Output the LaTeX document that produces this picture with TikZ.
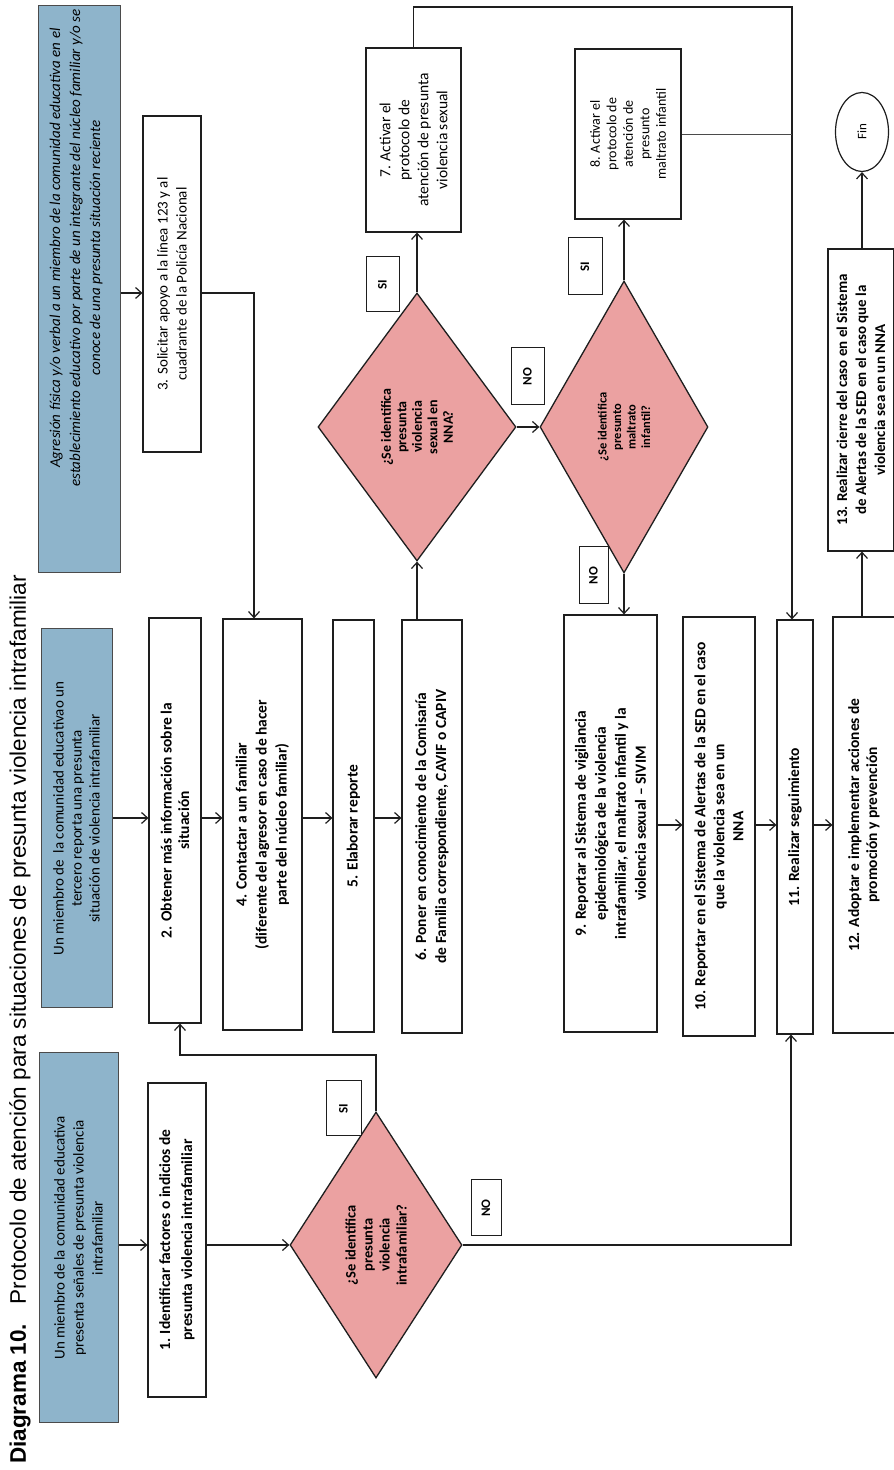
\documentclass[tikz,border=0pt]{standalone}
\usepackage{fontspec}
\setmainfont{Carlito}
\newfontfamily\titlefont{Liberation Sans}
\usetikzlibrary{shapes.geometric,arrows.meta}
\definecolor{bluebox}{HTML}{8EB4CB}
\definecolor{pinkd}{HTML}{EBA1A1}
\definecolor{lineclr}{HTML}{1E1E1E}
\newcommand\fsbox{\fontsize{15.5}{20}\selectfont}
\newcommand\fsblue{\fontsize{15}{19}\selectfont}
\newcommand\fsdia{\fontsize{14.5}{17}\selectfont}
\newcommand\fslab{\fontsize{13}{15}\selectfont}
\tikzset{
  bx/.style={draw=lineclr, line width=1.2pt, fill=white, align=center, inner sep=2pt, font=\fsbox\bfseries},
  rbx/.style={bx, font=\fsbox},
  bluebx/.style={draw=lineclr!80, line width=1pt, fill=bluebox, align=center, inner sep=2pt, font=\fsblue},
  dia/.style={diamond, draw=lineclr, line width=1.3pt, fill=pinkd, align=center, inner sep=0pt, font=\fsdia\bfseries},
  lab/.style={draw=lineclr, line width=1pt, fill=white, inner sep=0pt, font=\fslab\bfseries},
  arr/.style={lineclr, line width=1.2pt, -{Straight Barb[length=6pt,width=11pt]}},
  ln/.style={lineclr, line width=1.2pt},
}
\begin{document}
\begin{tikzpicture}[x=1pt,y=-1pt]
\begin{scope}[rotate=90, transform shape]
\fill[white] (0,0) rectangle (1470,894);
\useasboundingbox (0,0) rectangle (1470,894);

% title
\node[anchor=west, inner sep=0pt, font=\titlefont\fontsize{22.5}{26}\selectfont] (title) at (6,20)
  {\textbf{Diagrama 10.}\hspace{0.5em} Protocolo de atención para situaciones de presunta violencia intrafamiliar};

% header boxes
\node[bluebx, minimum width=370pt, minimum height=79pt] (blue1) at (232,78.5)
  {Un miembro de la comunidad educativa\\presenta señales de presunta violencia\\intrafamiliar};
\node[bluebx, minimum width=379pt, minimum height=71pt, font=\fontsize{15}{18}\selectfont] (blue2) at (651.5,76.5)
  {Un miembro de \ la comunidad educativao un\\tercero reporta una presunta\\situación de violencia intrafamiliar};
\node[bluebx, minimum width=567pt, minimum height=82pt] (blue3) at (1180.5,79) {};
\node[align=center, inner sep=0pt, font=\fontsize{15}{20}\selectfont\itshape] (blue3txt) at (1222,76)
  {Agresión física y/o verbal a un miembro de la comunidad educativa en el\\establecimiento educativo por parte de un integrante del núcleo familiar y/o se\\conoce de una presunta situación reciente};

% process boxes
\node[bx, minimum width=314pt, minimum height=58pt, font=\fontsize{15.5}{22}\selectfont\bfseries] (box1) at (230,177)
  {1. Identificar factores o indicios de\\presunta violencia intrafamiliar};
\node[bx, minimum width=405pt, minimum height=52pt, font=\fontsize{15.5}{17.5}\selectfont\bfseries] (box2) at (649.5,175)
  {2. Obtener más información sobre la\\situación};
\node[rbx, minimum width=336pt, minimum height=58pt, font=\fontsize{15}{19}\selectfont] (box3) at (1186,172)
  {3. Solicitar apoyo a la línea 123 y al\\cuadrante de la Policía Nacional};
\node[bx, minimum width=411pt, minimum height=79pt] (box4) at (645.5,262.5)
  {4. Contactar a un familiar\\(diferente del agresor en caso de hacer\\parte del núcleo familiar)};
\node[bx, minimum width=412pt, minimum height=41pt] (box5) at (644,353.5)
  {5. Elaborar reporte};
\node[bx, minimum width=413pt, minimum height=60pt] (box6) at (643.5,432)
  {6. Poner en conocimiento de la Comisaría\\de Familia correspondiente, CAVIF o CAPIV};
\node[rbx, minimum width=184pt, minimum height=95pt, font=\fontsize{15.5}{19}\selectfont] (box7) at (1330,413.5)
  {7. Activar el\\protocolo de\\atención de presunta\\violencia sexual};
\node[rbx, minimum width=170pt, minimum height=106pt, font=\fontsize{14}{16.5}\selectfont] (box8) at (1336,628)
  {8. Activar el\\protocolo de\\atención de\\presunto\\maltrato infantil};
\node[bx, minimum width=417pt, minimum height=93pt] (box9) at (646.5,610.5)
  {9. Reportar al Sistema de vigilancia\\epidemiológica de la violencia\\intrafamiliar, el maltrato infantil y la\\violencia sexual -- SIVIM};
\node[bx, minimum width=419pt, minimum height=72pt, font=\fontsize{15.5}{19}\selectfont\bfseries] (box10) at (643.5,719)
  {10. Reportar en el Sistema de Alertas de la SED en el caso\\que la violencia sea en un\\NNA};
\node[bx, minimum width=414pt, minimum height=36pt] (box11) at (643,795)
  {11. Realizar seguimiento};
\node[bx, minimum width=416pt, minimum height=62pt, font=\fontsize{15.5}{18}\selectfont\bfseries] (box12) at (645,864)
  {12. Adoptar e implementar acciones de\\promoción y prevención};
\node[bx, minimum width=302pt, minimum height=66pt, font=\fontsize{15}{19}\selectfont\bfseries] (box13) at (1070,861)
  {13. Realizar cierre del caso en el Sistema\\de Alertas de la SED en el caso que la\\violencia sea en un NNA};
\node[ellipse, draw=lineclr, line width=1.2pt, fill=white, minimum width=79pt, minimum height=53pt, inner sep=0pt, font=\fontsize{13}{15}\selectfont] (fin) at (1338,862)
  {Fin};

% decisions
\node[dia, minimum width=266pt, minimum height=172pt] (dia1) at (225,376)
  {¿Se identifica\\presunta\\violencia\\intrafamiliar?};
\node[dia, minimum width=268pt, minimum height=198pt, font=\fontsize{14}{15.5}\selectfont\bfseries] (dia2) at (1043,417)
  {¿Se identifica\\presunta\\violencia\\sexual en\\NNA?};
\node[dia, minimum width=292pt, minimum height=168pt, font=\fontsize{12.5}{14.5}\selectfont\bfseries] (dia3) at (1043,624)
  {¿Se identifica\\presunto\\maltrato\\infantil?};

% labels
\node[lab, minimum width=55pt, minimum height=35pt] (si1) at (361.5,343.5) {SI};
\node[lab, minimum width=56pt, minimum height=30pt] (no1) at (262,486) {NO};
\node[lab, minimum width=55pt, minimum height=33pt] (si2) at (1185.5,382.5) {SI};
\node[lab, minimum width=57pt, minimum height=33pt] (no2) at (1093.5,527.5) {NO};
\node[lab, minimum width=57pt, minimum height=34pt] (si3) at (1203.5,585) {SI};
\node[lab, minimum width=57pt, minimum height=29pt] (no3) at (894.5,593.5) {NO};

% lane coordinates
\coordinate (l2) at (652,0);
\coordinate (l9) at (645,0);
\coordinate (l3) at (1177,0);
\coordinate (k34) at (1177,254);
\coordinate (s1) at (415,180);
\coordinate (n1) at (225,791);
\coordinate (t7) at (1463,792);
\coordinate (l12) at (0,862);

% connectors
\draw[arr] (blue1.south -| dia1.north) -- (box1.north -| dia1.north);
\draw[arr] (box1.south -| dia1.north) -- (dia1.north);
\draw[arr] (blue2.south -| l2) -- (box2.north -| l2);
\draw[arr] (box2.south -| l2) -- (box4.north -| l2);
\draw[arr] (box4.south -| l2) -- (box5.north -| l2);
\draw[arr] (box5.south -| l2) -- (box6.north -| l2);
\draw[arr] (blue3.south -| l3) -- (box3.north -| l3);
\draw[arr] (box3.south -| k34) -- (k34) -- (k34 -| box4.east);
\draw[arr] (dia1.east) -| (s1) -- (s1 -| box2.west);
\draw[arr] (dia1.south) -- (n1) -- (n1 -| box11.west);
\draw[arr] (box6.east |- dia2.west) -- (dia2.west);
\draw[arr] (dia2.east) -- (dia2.east -| box7.west);
\draw[arr] (dia2.south) -- (dia3.north);
\draw[arr] (dia3.east) -- (dia3.east -| box8.west);
\draw[arr] (dia3.west) -- (dia3.west -| box9.east);
\draw[arr] (box9.south -| l9) -- (box10.north -| l9);
\draw[arr] (box10.south -| l9) -- (box11.north -| l9);
\draw[arr] (box11.south -| l9) -- (box12.north -| l9);
\draw[arr] (box7.east) -| (t7) -- (t7 -| box11.east);
\draw[lineclr!80, line width=0.8pt] (box8.south) -- (box8.south |- t7);
\draw[arr] (box12.east |- l12) -- (box13.west |- l12);
\draw[arr] (box13.east |- l12) -- (fin.west |- l12);
\end{scope}
\end{tikzpicture}
\end{document}
